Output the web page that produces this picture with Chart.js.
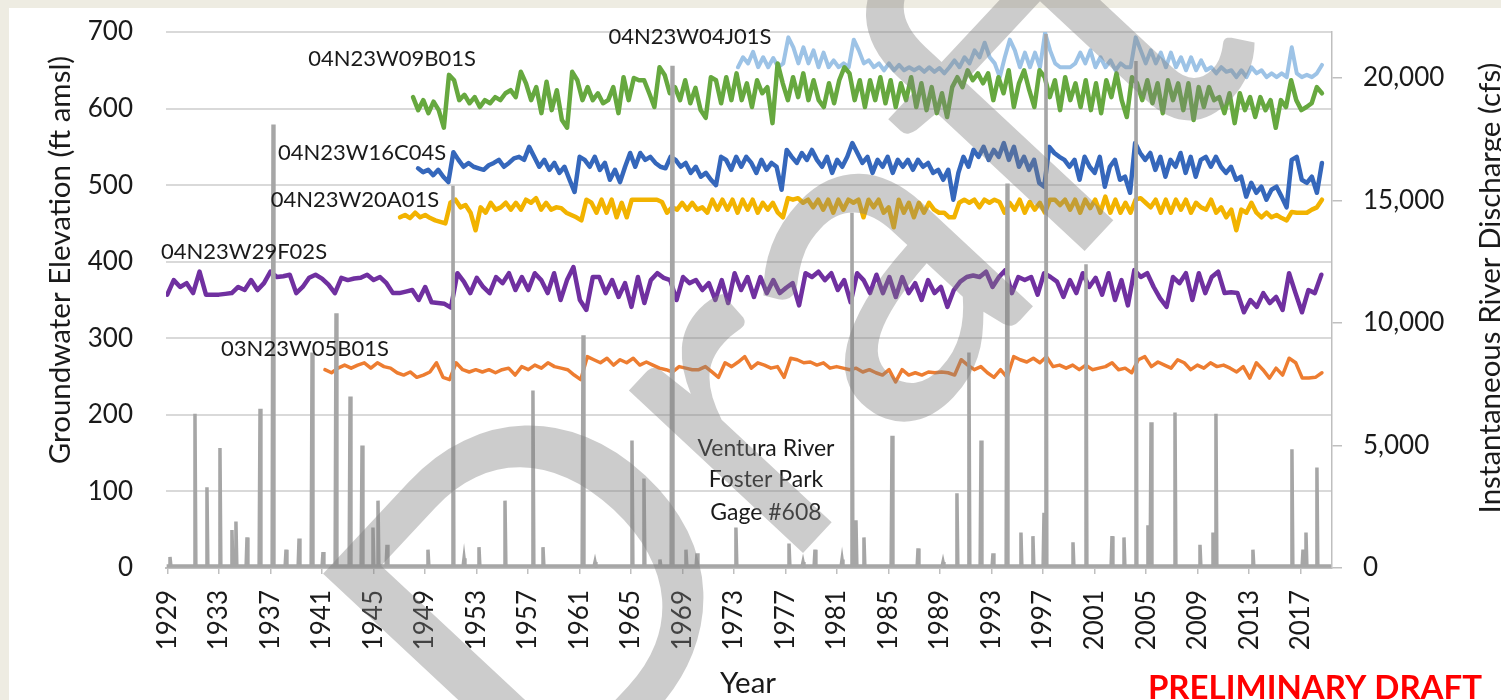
<!DOCTYPE html>
<html>
<head>
<meta charset="utf-8">
<script src="https://cdn.jsdelivr.net/npm/chart.js@4.4.1/dist/chart.umd.min.js"></script>
<style>
  html, body { margin: 0; padding: 0; background: #fff; }
  #wrap { width: 1501px; height: 700px; }
</style>
</head>
<body>
<div id="wrap"><canvas id="gwChart" width="1501" height="700"></canvas></div>
<script>
/* ---------------- axis ticks ---------------- */
const yearTicks = [1929, 1933, 1937, 1941, 1945, 1949, 1953, 1957, 1961, 1965, 1969, 1973,
  1977, 1981, 1985, 1989, 1993, 1997, 2001, 2005, 2009, 2013, 2017];
const dischargeTicks = [0, 5000, 10000, 15000, 20000];

/* ---------------- groundwater levels (ft amsl) ----------------
   readings are evenly spaced between first and last date of each well */
const w04j01sSpan = [1973.31, 2018.65];
const w04j01sLevels = [654,667,659,674,654,667,654,666,654,659, 693,680,659,680,659,676,654,673,654,663,
  654,659,654,690,676,659,663,654,659,650, 659,650,657,650,654,650,654,648,654,648,
  653,646,654,663,654,667,659,676,667,686, 667,659,641,
  667,690,676,654,673,654,673,654,699,676, 659,654,654,654,659,673,659,676,654,667,
  654,663,650,659,654,654,693,676,659,676, 659,673,654,673,654,667,650,667,650,663,
  650,654,646,654,648,650,641,650,641,654, 646,650,641,646,641,646,641,680,646,641,
  644,641,646,657];

const w09b01sSpan = [1948.08, 2018.65];
const w09b01sLevels = [615,598,611,594,609,598,575,644,637,611,618,607,615,602,611,
  607,615,611,620,624,615,648,633,611,628, 594,635,598,624,585,575,648,637,611,628,
  611,620,607,611,628,594,641,611,640,637, 637,620,602,654,644,620,628,611,637,607,
  627,598,588,641,637,607,641,611,646,611, 633,602,637,620,628,581,659,633,611,641,
  615,646,611,637,611,602,633,607,637,654, 646,611,637,602,637,611,641,607,637,602,
  633,611,641,602,633,598,628,594,620,589, 628,641,628,650,637,646,633,646, 611,
  641,620,650,602,633,650,624,602,650,641, 615,637,598,641,611,633,602,637,598,633,
  594,637,615,646,611,589,641,633,611,637, 607,633,594,637,611,633,598,633,585,628,
  602,628,611,615,594,620,581,620,598,615, 589,615,598,611,575,611,602,637,611,598,
  602,607,628,620];

const w16c04sSpan = [1948.47, 2018.65];
const w16c04sLevels = [522,517,520,513,520,511,504,543,533,524,529,524,522,520,526,
  529,533,524,529,535,537,533,550,537,524, 533,520,529,516,524,507,491,537,533,524,
  537,520,529,507,520,504,524,542,524,542, 533,537,529,524,522,537,533,524,529,516,
  524,511,516,507,500,537,533,520,537,524, 537,529,516,533,520,529,524,494,546,537,
  529,542,533,546,533,524,537,516,533,524, 537,555,542,529,537,516,533,524,537,516,
  533,524,533,520,533,524,529,516,520,507, 520,481,516,537,524,546,537,550,533,546,
  537,
  555,533,550,524,537,520,533,503,498,550, 542,537,533,524,533,507,537,524,516,537,
  498,524,533,507,511,490,555,542,533,542, 520,537,511,533,524,542,516,537,511,533,
  537,524,537,524,516,524,507,511,485,503, 490,498,481,494,498,485,471,533,537,507,
  503,511,490,529];

const w20a01sSpan = [1947.07, 2018.65];
const w20a01sLevels = [458,461,457,464,458,461,457,454,452,450,477,481,471,474,464,441,471,464,477,468,
  471,477,468,477,468,481,477,483,468,477, 468,471,470,464,461,458,454,481,477,464,
  481,464,481,458,477,458,481, 481,481,481,481,481, 478,464,
  471,468,477,468,477,468,471,464,481,468, 481,468,481,464,481,468,481,464,477,468,
  477,464,458,483,481,483,477,481,471,481, 468,481,464,481,468,481,477,481,458,481,
  471,481,464,471,445,481,464,477,458,477, 464,477,468,464,464,458,458,477,481,477,
  481,471,481,477,481, 478,
  464,477,468,481,464,478,468,477,464,481, 481,474,481,468,481,464,481,470,481,464,
  485,464,481,464,477,464,481,483,477,471, 481,464,481,464,481,468,481,464,477,471,
  468,481,464,471,458,468,441,468,464,477, 464,458,464,458,461,457,454,465,464,464,
  464,468,471,481];

const w29f02sSpan = [1929.0, 2018.6];
const w29f02sLevels = [357,376,367,372,359,387,357,357,357,358, 359,367,363,376,363,372,387,380,381,383,
  359,367,379,383,378,370,359,379,376,378, 379,383,376,380,372,359,359,361,363,350,
  367,347,346,345,340,
  385,374,359,379,367,359,380, 372,385,363,380,363,385,376,359,385,350,
  376,393,350,337,380,380,359,376,354,372, 341,380,346,376,385,379,376,350,380,372,
  376,363,372, 350,376,346,385,363,380,354,380,359,376,
  359,366,372,343,385,380,387,376,385,363, 376,347,385,376,359,383,359,380,354,380,
  359,372,350,376,359,367,341,363,374,380, 382,380,387,367,380,
  389,359,380,376,380,357,385,380,374,354, 376,359,385,367,379,357,385,350,376,343,
  389,380,385,367,352,341,380,372,385,350, 385,359,380,387,359,360,359,334,350,341,
  359,346,354,337,385,359,334,363,359,383];

const w05b01sSpan = [1941.24, 2018.65];
const w05b01sLevels = [259,255,261,265,261,265,268,261,268,263, 261,255,252,256,249,252,256,268,249,246,
  268,259,256,259,256,259,255,
  259,261,252,263,259,265,261,268,263,261, 259,252,246,276,272,268,274,265,272,268,
  274,265,269,265,261,259,256,263,261,259, 259,263,256,249,268,263,269,276,261,268,
  265,261,263,249,274,272,268,269,265,268, 261,263,261,259,261,256,259,255,252,259,
  243,259,252,255,252,256,255,256,255,252, 272,265,259,263,255,249, 259,
  249,276,272,269,274,268,276,263,265,261, 265,259,265,259,261,263,268,259,261,255,
  272,276,263,269,265,261,272,268,259,265, 261,268,263,265,261,256,263,248,268,259,
  248,261,252,274,268,248,248,249,255];

/* ---------------- Ventura River at Foster Park, peak discharge (cfs) ---------------- */
const flowYears = [1929.21, 1931.15, 1932.08, 1933.09, 1934.02, 1934.33, 1935.19, 1936.2, 1937.21, 1938.22,
  1939.23, 1940.24, 1941.09, 1942.1, 1943.19, 1944.12, 1944.97, 1945.36, 1946.06, 1949.24,
  1951.18, 1952.04, 1953.2, 1955.22, 1957.39, 1958.17, 1961.28, 1962.21, 1965.08, 1966.01,
  1967.25, 1968.19, 1969.27, 1970.13, 1973.15, 1977.27, 1978.36, 1979.29, 1981.39, 1982.16,
  1982.47, 1983.09, 1985.27, 1987.29, 1989.23, 1990.31, 1991.24, 1992.18, 1993.11, 1994.2,
  1995.28, 1996.21, 1997.07, 1997.22, 1999.32, 2000.33, 2002.35, 2003.28, 2004.21, 2005.14,
  2005.38, 2007.24, 2009.18, 2010.19, 2010.42, 2013.29, 2016.32, 2017.18, 2017.41, 2018.26];
const flowPeaks = [450, 6300, 3300, 4900, 1550, 1900, 1250, 6500, 18100, 750,
  1200, 8800, 650, 10400, 7000, 5000, 1650, 2750, 950, 750,
  15600, 400, 850, 2750, 7250, 850, 9500, 250, 5200, 3650,
  350, 20500, 750, 600, 1650, 1000, 250, 750, 350, 14500,
  1950, 1250, 5400, 800, 250, 3050, 8800, 5200, 600, 15700,
  1450, 1300, 2250, 21800, 1050, 12400, 1300, 1250, 20700, 1750,
  5950, 6350, 950, 1450, 6300, 750, 4850, 750, 1450, 4100];
const baseFlow = 80;
const flowSpan = [1928.95, 2019.35];

/* labels written on the plot, anchored in data units */
const seriesNotes = [
  { text: '04N23W09B01S', x: 1946.45, y: 666 },
  { text: '04N23W04J01S', x: 1969.58, y: 695 },
  { text: '04N23W16C04S', x: 1944.12, y: 543 },
  { text: '04N23W20A01S', x: 1943.57, y: 482 },
  { text: '04N23W29F02S', x: 1934.96, y: 414 },
  { text: '03N23W05B01S', x: 1939.69, y: 287 }
];
const gageNote = { lines: ['Ventura River', 'Foster Park', 'Gage #608'], x: 1975.48, y: [157, 116, 74] };

/* ---------------- helpers ---------------- */
function spread(span, values) {
  const step = (span[1] - span[0]) / (values.length - 1);
  return values.map((v, i) => ({ x: span[0] + i * step, y: v }));
}

function flowPoints() {
  const pts = [{ x: flowSpan[0], y: baseFlow }];
  flowYears.forEach((yr, i) => {
    pts.push({ x: yr - 0.07, y: baseFlow }, { x: yr, y: flowPeaks[i] }, { x: yr + 0.07, y: baseFlow });
  });
  pts.push({ x: flowSpan[1], y: baseFlow });
  return pts;
}

function hydro(label, span, values, color, width) {
  return {
    label: label,
    data: spread(span, values),
    yAxisID: 'y',
    borderColor: color,
    borderWidth: width,
    borderJoinStyle: 'round',
    borderCapStyle: 'round',
    pointRadius: 0,
    tension: 0
  };
}

const textColor = '#1a1a1a';

// background panel, beige frame on top and left
const panelBg = {
  id: 'panelBg',
  beforeDraw(chart) {
    const ctx = chart.ctx;
    ctx.save();
    ctx.fillStyle = '#eeece2';
    ctx.fillRect(0, 0, chart.width, chart.height);
    ctx.fillStyle = '#ffffff';
    ctx.fillRect(9, 8, chart.width - 9, chart.height - 8);
    ctx.restore();
  }
};

// well names, gage name and axis titles
const annotate = {
  id: 'annotate',
  afterDatasetsDraw(chart) {
    const ctx = chart.ctx;
    const xs = chart.scales.x, ys = chart.scales.y;
    ctx.save();
    ctx.fillStyle = textColor;
    ctx.textAlign = 'center';
    ctx.textBaseline = 'alphabetic';

    ctx.font = '22px Lato';
    seriesNotes.forEach(n => {
      ctx.fillText(n.text, xs.getPixelForValue(n.x), ys.getPixelForValue(n.y) + 0.36 * 22);
    });

    ctx.font = '23px Lato';
    gageNote.lines.forEach((t, i) => {
      ctx.fillText(t, xs.getPixelForValue(gageNote.x), ys.getPixelForValue(gageNote.y[i]) + 0.36 * 23);
    });

    // axis titles
    ctx.font = '29.5px Lato';
    ctx.fillText('Year', 748, 693);

    ctx.save();
    ctx.translate(59, 260);
    ctx.rotate(-Math.PI / 2);
    ctx.fillText('Groundwater Elevation (ft amsl)', 0, 0.36 * 29.5);
    ctx.restore();

    ctx.save();
    ctx.translate(1489, 288);
    ctx.rotate(-Math.PI / 2);
    ctx.fillText('Instantaneous River Discharge (cfs)', 0, 0.36 * 29.5);
    ctx.restore();

    ctx.restore();
  }
};

// "Draft" watermark and red stamp
const stamp = {
  id: 'stamp',
  afterDraw(chart) {
    const ctx = chart.ctx;
    ctx.save();
    ctx.translate(540, 835);
    ctx.rotate(-47 * Math.PI / 180);
    ctx.font = '470px Lato';
    ctx.fillStyle = 'rgba(128,128,128,0.40)';
    ctx.textAlign = 'left';
    ctx.textBaseline = 'alphabetic';
    ctx.fillText('Draft', 0, 0);
    ctx.restore();

    ctx.save();
    ctx.font = 'bold 33px Lato';
    ctx.fillStyle = '#ff0000';
    ctx.textAlign = 'right';
    ctx.textBaseline = 'alphabetic';
    ctx.fillText('PRELIMINARY DRAFT', 1482, 699);
    ctx.restore();
  }
};

function noEdgePadding(s) {
  s.paddingTop = 0;
  s.paddingBottom = 0;
}

function draw() {
  Chart.defaults.font.family = 'Lato';
  Chart.defaults.color = textColor;

  new Chart(document.getElementById('gwChart').getContext('2d'), {
    type: 'line',
    data: {
      datasets: [
        {
          label: 'Ventura River Foster Park Gage #608',
          data: flowPoints(),
          yAxisID: 'y1',
          borderColor: '#a6a6a6',
          borderWidth: 3.5,
          pointRadius: 0,
          tension: 0
        },
        hydro('03N23W05B01S', w05b01sSpan, w05b01sLevels, '#ed7d31', 3.5),
        hydro('04N23W29F02S', w29f02sSpan, w29f02sLevels, '#7030a0', 4.5),
        hydro('04N23W20A01S', w20a01sSpan, w20a01sLevels, '#f2b300', 4.5),
        hydro('04N23W16C04S', w16c04sSpan, w16c04sLevels, '#3567bb', 4.5),
        hydro('04N23W09B01S', w09b01sSpan, w09b01sLevels, '#66a83f', 4.5),
        hydro('04N23W04J01S', w04j01sSpan, w04j01sLevels, '#9dc3e6', 4)
      ]
    },
    options: {
      responsive: false,
      animation: false,
      devicePixelRatio: 1,
      layout: { padding: { top: 32, left: 0, right: 0, bottom: 0 } },
      plugins: {
        legend: { display: false },
        tooltip: { enabled: false }
      },
      scales: {
        x: {
          type: 'linear',
          min: 1928.9,
          max: 2019.43,
          afterBuildTicks: s => { s.ticks = yearTicks.map(v => ({ value: v })); },
          afterFit: s => { s.height = 132; s.paddingLeft = 0; s.paddingRight = 0; },
          ticks: {
            autoSkip: false,
            minRotation: 90,
            maxRotation: 90,
            padding: 16,
            color: textColor,
            font: { size: 26 },
            callback: v => String(v)
          },
          grid: { display: true, drawOnChartArea: false, drawTicks: true, tickLength: 6, color: '#bfbfbf', lineWidth: 1.5 },
          border: { display: true, color: '#bfbfbf', width: 2 }
        },
        y: {
          position: 'left',
          min: 0,
          max: 700,
          afterFit: s => { s.width = 166; noEdgePadding(s); },
          ticks: { stepSize: 100, padding: 33, color: textColor, font: { size: 26 } },
          grid: { color: '#d9d9d9', lineWidth: 2, drawTicks: false },
          border: { display: false }
        },
        y1: {
          position: 'right',
          min: 0,
          max: 21880,
          afterBuildTicks: s => { s.ticks = dischargeTicks.map(v => ({ value: v })); },
          afterFit: s => { s.width = 169; noEdgePadding(s); },
          ticks: {
            padding: 21,
            color: textColor,
            font: { size: 26 },
            callback: v => v.toLocaleString('en-US')
          },
          grid: { drawOnChartArea: false, drawTicks: true, tickLength: 10, color: '#bfbfbf', lineWidth: 1.5 },
          border: { display: true, color: '#bfbfbf', width: 1.5 }
        }
      }
    },
    plugins: [panelBg, annotate, stamp]
  });
}

Promise.all([
  document.fonts.load('26px Lato'),
  document.fonts.load('bold 33px Lato')
]).then(draw, draw);
</script>
</body>
</html>
